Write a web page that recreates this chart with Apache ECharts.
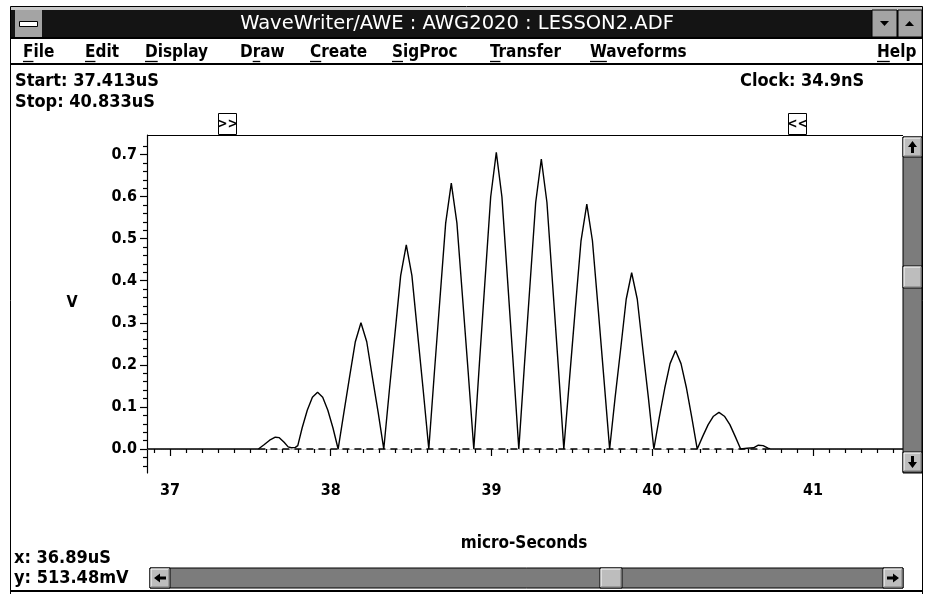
<!DOCTYPE html>
<html>
<head>
<meta charset="utf-8">
<script src="https://cdn.jsdelivr.net/npm/echarts@6/dist/echarts.min.js"></script>
<style>
html,body{margin:0;padding:0;background:#fff;}
#chart{width:925px;height:594px;}
</style>
</head>
<body>
<div id="chart"></div>
<script>
// ---------------- data ----------------
const timeUs = [
  36.857, 37.550,
  37.585, 37.620, 37.655, 37.680, 37.710, 37.735, 37.755, 37.780,
  37.795, 37.822, 37.854, 37.886, 37.918, 37.950, 37.982, 38.014, 38.046,
  38.082, 38.117, 38.153, 38.188, 38.224, 38.259, 38.295, 38.330,
  38.365, 38.400, 38.435, 38.470, 38.505, 38.540, 38.575, 38.610,
  38.645, 38.680, 38.715, 38.750, 38.785, 38.820, 38.855, 38.890,
  38.925, 38.960, 38.995, 39.030, 39.065, 39.100, 39.135, 39.170,
  39.205, 39.240, 39.275, 39.310, 39.345, 39.380, 39.415, 39.450,
  39.486, 39.521, 39.557, 39.593, 39.628, 39.664, 39.699, 39.735,
  39.769, 39.804, 39.838, 39.872, 39.907, 39.941, 39.976, 40.010,
  40.044, 40.078, 40.111, 40.145, 40.179, 40.213, 40.246, 40.280,
  40.314, 40.348, 40.381, 40.415, 40.449, 40.483, 40.516, 40.550,
  40.590, 40.630, 40.660, 40.690, 40.720, 40.735, 41.560
];
const volts = [
  0, 0,
  0.010, 0.021, 0.028, 0.027, 0.016, 0.005, 0.003, 0.004,
  0.008, 0.050, 0.092, 0.123, 0.135, 0.123, 0.092, 0.050, 0,
  0.087, 0.171, 0.255, 0.300, 0.255, 0.171, 0.087, 0,
  0.141, 0.276, 0.412, 0.485, 0.412, 0.276, 0.141, 0,
  0.183, 0.360, 0.537, 0.632, 0.537, 0.360, 0.183, 0,
  0.204, 0.402, 0.599, 0.705, 0.599, 0.402, 0.204, 0,
  0.200, 0.393, 0.586, 0.689, 0.586, 0.393, 0.200, 0,
  0.169, 0.332, 0.495, 0.582, 0.495, 0.332, 0.169, 0,
  0.122, 0.239, 0.356, 0.419, 0.356, 0.239, 0.122, 0,
  0.075, 0.145, 0.203, 0.234, 0.203, 0.145, 0.075, 0,
  0.030, 0.058, 0.078, 0.087, 0.078, 0.058, 0.030, 0,
  0.002, 0.003, 0.009, 0.008, 0.002, 0, 0
];
const baselineTimes = [37.55, 40.735];
const xMajorTicks = [37, 38, 39, 40, 41];
const xMinorTicks = [36.9,37.1,37.2,37.3,37.4,37.5,37.6,37.7,37.8,37.9,
  38.1,38.2,38.3,38.4,38.5,38.6,38.7,38.8,38.9,
  39.1,39.2,39.3,39.4,39.5,39.6,39.7,39.8,39.9,
  40.1,40.2,40.3,40.4,40.5,40.6,40.7,40.8,40.9,
  41.1,41.2,41.3,41.4,41.5];
const yMajorTicks = [0, 0.1, 0.2, 0.3, 0.4, 0.5, 0.6, 0.7];
const yMinorTicks = [-0.04,-0.02,0.02,0.04,0.06,0.08,0.12,0.14,0.16,0.18,
  0.22,0.24,0.26,0.28,0.32,0.34,0.36,0.38,0.42,0.44,0.46,0.48,
  0.52,0.54,0.56,0.58,0.62,0.64,0.66,0.68,0.72];
const xRange = [36.857, 41.56];
const yRange = [-0.057, 0.7464];

const titleText = 'WaveWriter/AWE : AWG2020 : LESSON2.ADF';
const menuItems = ['File','Edit','Display','Draw','Create','SigProc','Transfer','Waveforms','Help'];
const menuUnderline = [0,0,0,1,0,0,0,0,0];
const startText = 'Start: 37.413uS';
const stopText = 'Stop: 40.833uS';
const clockText = 'Clock: 34.9nS';
const xReadout = 'x: 36.89uS';
const yReadout = 'y: 513.48mV';
const yAxisName = 'V';
const xAxisName = 'micro-Seconds';

// ---------------- layout / style ----------------
const FONT = '"DejaVu Sans Condensed", "DejaVu Sans", sans-serif';
const FONT_WIDE = '"DejaVu Sans", sans-serif';
const menuX = [23, 85, 145, 240, 310, 392, 490, 590, 877];

const wave = timeUs.map((t, i) => [t, volts[i]]);
const baseline = baselineTimes.map(t => [t, 0]);

const measureCtx = document.createElement('canvas').getContext('2d');
function textW(str, font) { measureCtx.font = font; return measureCtx.measureText(str).width; }

const graphics = [];
function rect(x, y, w, h, fill, stroke, lw, z) {
  graphics.push({type:'rect', z: z||10, silent:true, shape:{x, y, width:w, height:h},
    style:{fill: fill||'none', stroke: stroke||null, lineWidth: lw||1}});
}
function line(x1, y1, x2, y2, color, lw, z) {
  graphics.push({type:'line', z: z||11, silent:true, shape:{x1, y1, x2, y2},
    style:{stroke: color, lineWidth: lw||1}});
}
function poly(points, fill, z) {
  graphics.push({type:'polygon', z: z||12, silent:true, shape:{points}, style:{fill}});
}
function text(str, x, y, opt) {
  graphics.push({type:'text', z: 20, silent:true, x, y,
    style: Object.assign({text: str, fill:'#000', font: 'bold 18px ' + FONT,
      textAlign:'left', textVerticalAlign:'middle'}, opt||{})});
}
function button(x, y, w, h) {
  rect(x, y, w, h, '#bdbdbd', '#000', 1, 12);
  line(x+1, y+1, x+w-1, y+1, '#fff', 1, 13);
  line(x+1, y+1, x+1, y+h-1, '#fff', 1, 13);
  line(x+1, y+h-1, x+w-1, y+h-1, '#777', 1, 13);
  line(x+w-1, y+1, x+w-1, y+h-1, '#777', 1, 13);
}

// window frame
rect(10.5, 6.5, 912, 590, null, '#000', 1, 5);
rect(11, 7, 911, 3, '#c8c8c8', null, 1, 6);
rect(11, 10, 911, 27, '#141414', null, 1, 7);
// system menu box
rect(15, 10, 27, 27, '#a4a4a4', null, 1, 8);
rect(19.5, 21.5, 18, 5, '#fff', '#000', 1, 9);
// title
text(titleText, 457, 24, {fill:'#fff', font:'19.5px ' + FONT_WIDE, textAlign:'center'});
// min/max buttons
rect(872, 10, 25, 27, '#a4a4a4', '#000', 1, 8);
rect(898, 10, 24, 27, '#a4a4a4', '#000', 1, 8);
poly([[880,21],[889,21],[884.5,26]], '#000', 9);
poly([[905,26],[914,26],[909.5,21]], '#000', 9);
// menu bar
line(11, 38, 922, 38, '#000', 2, 8);
line(11, 64, 922, 64, '#000', 2, 8);
const menuFont = 'bold 17px ' + FONT;
menuItems.forEach((m, i) => {
  text(m, menuX[i], 53, {font: menuFont});
  const k = menuUnderline[i];
  const x0 = menuX[i] + textW(m.slice(0, k), menuFont);
  const x1 = x0 + textW(m.charAt(k), menuFont);
  line(x0, 61.5, x1, 61.5, '#000', 1.3, 21);
});
// header info
text(startText, 15, 81);
text(stopText, 15, 102);
text(clockText, 740, 81);
// cursor marker boxes
rect(218.5, 113.5, 18, 21, '#fff', '#000', 1, 15);
text('>>', 227.5, 124, {font:'bold 14px ' + FONT, textAlign:'center'});
rect(788.5, 113.5, 18, 21, '#fff', '#000', 1, 15);
text('<<', 797.5, 124, {font:'bold 14px ' + FONT, textAlign:'center'});
// plot top border
line(147, 135.5, 903, 135.5, '#000', 1.2, 15);
// vertical scrollbar
rect(903, 137, 19, 336, '#7c7c7c', '#000', 1, 10);
button(903, 137, 19, 20);
poly([[912.5,141],[908,147],[911,147],[911,153],[914,153],[914,147],[917,147]], '#000', 14);
button(903, 266, 19, 22);
button(903, 452, 19, 20);
poly([[912.5,468],[908,462],[911,462],[911,456],[914,456],[914,462],[917,462]], '#000', 14);
// horizontal scrollbar
rect(150, 568, 753, 20, '#7c7c7c', '#000', 1, 10);
button(150, 568, 20, 20);
poly([[154,578],[160,573.5],[160,576.5],[166,576.5],[166,579.5],[160,579.5],[160,582.5]], '#000', 14);
button(600, 568, 22, 20);
button(883, 568, 20, 20);
poly([[899,578],[893,573.5],[893,576.5],[887,576.5],[887,579.5],[893,579.5],[893,582.5]], '#000', 14);
// axis names and readouts
text(yAxisName, 72, 303, {font:'bold 16px ' + FONT, textAlign:'center'});
text(xAxisName, 524, 544, {font:'bold 17px ' + FONT, textAlign:'center'});
text(xReadout, 14, 558);
text(yReadout, 14, 578);
// bottom frame line
line(11, 591, 922, 591, '#000', 2, 8);

const chart = echarts.init(document.getElementById('chart'), null, {renderer:'canvas'});
const labelFont = {fontFamily: FONT, fontWeight:'bold', fontSize:16, color:'#000'};

chart.setOption({
  animation:false,
  backgroundColor:'#fff',
  grid:{left:147, top:135, right:22, bottom:121, containLabel:false},
  xAxis:[{
    type:'value', min:xRange[0], max:xRange[1], position:'bottom',
    axisLine:{show:true, lineStyle:{color:'#c8c8c8', type:'dotted', width:1}},
    axisTick:{show:true, customValues:xMajorTicks, length:7, lineStyle:{color:'#000', width:1.2}},
    axisLabel:{show:true, customValues:xMajorTicks, margin:10, formatter:v => String(Math.round(v)), ...labelFont},
    splitLine:{show:false}
  },{
    type:'value', min:xRange[0], max:xRange[1], position:'bottom',
    axisLine:{show:false},
    axisTick:{show:true, customValues:xMinorTicks, length:4, lineStyle:{color:'#000', width:1.2}},
    axisLabel:{show:false}, splitLine:{show:false}
  }],
  yAxis:[{
    type:'value', min:yRange[0], max:yRange[1], position:'left',
    axisLine:{show:true, lineStyle:{color:'#000', width:1.2}},
    axisTick:{show:true, customValues:yMajorTicks, length:7, lineStyle:{color:'#000', width:1.2}},
    axisLabel:{show:true, customValues:yMajorTicks, margin:10, formatter:v => v.toFixed(1), ...labelFont},
    splitLine:{show:false}
  },{
    type:'value', min:yRange[0], max:yRange[1], position:'left',
    axisLine:{show:false},
    axisTick:{show:true, customValues:yMinorTicks, length:4, lineStyle:{color:'#000', width:1.2}},
    axisLabel:{show:false}, splitLine:{show:false}
  }],
  graphic: graphics,
  series:[{
    type:'line', data: baseline, xAxisIndex:0, yAxisIndex:0, symbol:'none', z:1,
    lineStyle:{color:'#000', width:1.4, type:[7,5]}, silent:true
  },{
    type:'line', data: wave, xAxisIndex:0, yAxisIndex:0, symbol:'none', z:3,
    lineStyle:{color:'#000', width:1.4}, silent:true
  }]
});
</script>
</body>
</html>
